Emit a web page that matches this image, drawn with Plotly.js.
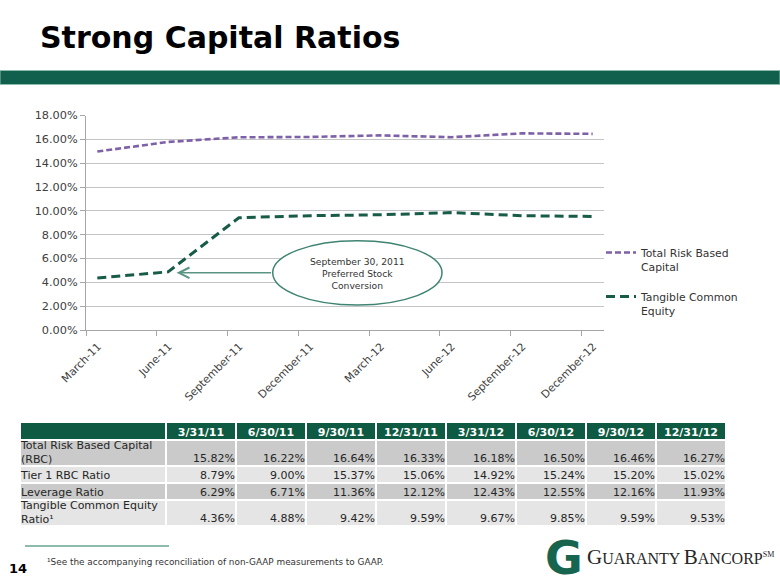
<!DOCTYPE html>
<html>
<head>
<meta charset="utf-8">
<script src="https://cdn.plot.ly/plotly-3.0.1.min.js"></script>
<style>html,body{margin:0;padding:0;background:#fff;}#chart{width:780px;height:585px;}</style>
</head>
<body>
<div id="chart"></div>
<script>
// ---------- data ----------
const chartDates = ['March-11','June-11','September-11','December-11','March-12','June-12','September-12','December-12'];
const totalRiskBased = [14.98, 15.78, 16.17, 16.20, 16.33, 16.18, 16.50, 16.46];
const tangibleCommon = [4.36, 4.88, 9.42, 9.59, 9.67, 9.85, 9.59, 9.53];
const seriesNames = ['Total Risk Based<br>Capital', 'Tangible Common<br>Equity'];

const tableDates = ['3/31/11','6/30/11','9/30/11','12/31/11','3/31/12','6/30/12','9/30/12','12/31/12'];
const rowLabels = ['Total Risk Based Capital<br>(RBC)', 'Tier 1 RBC Ratio', 'Leverage Ratio', 'Tangible Common Equity<br>Ratio¹'];
const rbcRow      = [15.82, 16.22, 16.64, 16.33, 16.18, 16.50, 16.46, 16.27];
const tier1Row    = [8.79, 9.00, 15.37, 15.06, 14.92, 15.24, 15.20, 15.02];
const leverageRow = [6.29, 6.71, 11.36, 12.12, 12.43, 12.55, 12.16, 11.93];
const tceRow      = [4.36, 4.88, 9.42, 9.59, 9.67, 9.85, 9.59, 9.53];

const titleText = 'Strong Capital Ratios';
const annotationText = 'September 30, 2011<br>Preferred Stock<br>Conversion';
const footnoteText = '¹See the accompanying reconciliation of non-GAAP measurements to GAAP.';
const pageNumber = '14';

// ---------- helpers (layout positions in page pixels) ----------
const W = 780, H = 585;
const px = v => v / W;
const py = v => 1 - v / H;
const FONT = 'DejaVu Sans, Verdana, sans-serif';

const idx = chartDates.map((d, i) => i);
const off = 0.16;

const traces = [
  {
    type: 'scatter', mode: 'lines', x: idx, y: totalRiskBased, name: seriesNames[0],
    legendgroup: 'a', line: {color: '#7d60a8', width: 2.6, dash: '6px,3px'},
    hoverinfo: 'skip'
  },
  {
    type: 'scatter', mode: 'lines', x: idx, y: tangibleCommon, name: seriesNames[1],
    legendgroup: 'b', line: {color: '#185c48', width: 3, dash: '9px,5px'},
    hoverinfo: 'skip'
  }
];

// ---------- table drawn on its own axes (x3 / y3), units = page pixels inside the table ----------
const rows = [rbcRow, tier1Row, leverageRow, tceRow];
const labelColWidth = 146, valueColWidth = 70;
const colEdges = [0, labelColWidth];
tableDates.forEach(() => colEdges.push(colEdges[colEdges.length - 1] + valueColWidth));
const headerH = 18;
const twoLine = rowLabels.map(l => l.indexOf('<br>') >= 0);
const rowEdges = [0, headerH];
rowLabels.forEach((l, i) => rowEdges.push(rowEdges[rowEdges.length - 1] + (twoLine[i] ? 26 : 17)));
const tableW = colEdges[colEdges.length - 1], tableH = rowEdges[rowEdges.length - 1];

// fill kinds: 0 header, 1 dark row, 2 light row
const fillZ = [colEdges.slice(1).map(() => 0)];
rows.forEach((r, ri) => fillZ.push(colEdges.slice(1).map(() => (ri % 2 === 0 ? 1 : 2))));
traces.push({
  type: 'heatmap', xaxis: 'x3', yaxis: 'y3', x: colEdges, y: rowEdges, z: fillZ,
  zmin: 0, zmax: 2, showscale: false, xgap: 2, ygap: 2, hoverinfo: 'skip',
  colorscale: [[0, '#0e5a43'], [0.5, '#c9cac9'], [1, '#e4e5e4']]
});
// header text
traces.push({
  type: 'scatter', mode: 'text', xaxis: 'x3', yaxis: 'y3', showlegend: false, hoverinfo: 'skip',
  x: tableDates.map((d, c) => (colEdges[c + 1] + colEdges[c + 2]) / 2),
  y: tableDates.map(() => headerH - 7),
  text: tableDates.map(d => '<b>' + d + '</b>'),
  textposition: 'middle center', cliponaxis: false,
  textfont: {family: FONT, size: 11, color: '#ffffff'}
});
// row labels
traces.push({
  type: 'scatter', mode: 'text', xaxis: 'x3', yaxis: 'y3', showlegend: false, hoverinfo: 'skip',
  x: rowLabels.map(() => 1),
  y: rowLabels.map((l, ri) => twoLine[ri] ? (rowEdges[ri + 1] + rowEdges[ri + 2]) / 2 : rowEdges[ri + 2] - 7),
  text: rowLabels, textposition: 'middle right', cliponaxis: false,
  textfont: {family: FONT, size: 11, color: '#262626'}
});
// values
const vx = [], vy = [], vt = [];
rows.forEach((r, ri) => r.forEach((v, c) => {
  vx.push(colEdges[c + 2] - 1);
  vy.push(rowEdges[ri + 2] - 7);
  vt.push(v.toFixed(2) + '%');
}));
traces.push({
  type: 'scatter', mode: 'text', xaxis: 'x3', yaxis: 'y3', showlegend: false, hoverinfo: 'skip',
  x: vx, y: vy, text: vt, textposition: 'middle left', cliponaxis: false,
  textfont: {family: FONT, size: 11, color: '#262626'}
});

const layout = {
  width: W, height: H,
  margin: {l: 0, r: 0, t: 0, b: 0},
  paper_bgcolor: '#ffffff', plot_bgcolor: '#ffffff',
  title: {
    text: '<b>' + titleText + '</b>',
    x: px(40), xanchor: 'left', y: py(37), yanchor: 'middle',
    font: {family: FONT, size: 30, color: '#000000'}
  },
  showlegend: true,
  legend: {
    x: px(601), xanchor: 'left', y: py(239), yanchor: 'top',
    valign: 'top', tracegroupgap: 13, bgcolor: 'rgba(0,0,0,0)',
    font: {family: FONT, size: 10.8, color: '#333333'}
  },
  xaxis: {
    domain: [px(86), px(604)], range: [-off, chartDates.length - 1 + off],
    tickvals: idx.map(i => i - off), ticktext: chartDates, tickangle: -45, ticklabelshift: 12,
    showgrid: false, zeroline: false, showline: true, linecolor: '#a6a6a6', linewidth: 1,
    ticks: 'outside', ticklen: 5, tickcolor: '#a6a6a6', automargin: false,
    tickfont: {family: FONT, size: 10.8, color: '#404040'}, fixedrange: true
  },
  yaxis: {
    domain: [py(330), py(115.5)], range: [0, 18], dtick: 2, tickformat: '.2f', ticksuffix: '%',
    showgrid: true, gridcolor: '#c4c4c4', gridwidth: 1, zeroline: false,
    showline: true, linecolor: '#a6a6a6', linewidth: 1,
    ticks: 'outside', ticklen: 5, tickcolor: '#a6a6a6', automargin: false,
    tickfont: {family: FONT, size: 11.3, color: '#404040'}, fixedrange: true
  },
  xaxis3: {
    domain: [px(20), px(20 + tableW)], range: [0, tableW], visible: false, fixedrange: true, automargin: false
  },
  yaxis3: {
    domain: [py(422 + tableH), py(422)], range: [tableH, 0], visible: false, fixedrange: true, automargin: false
  },
  shapes: [
    {type: 'rect', xref: 'paper', yref: 'paper', x0: 0, x1: 1, y0: py(84.5), y1: py(70.5),
     fillcolor: '#11604e', line: {color: '#8dbcaf', width: 1}, layer: 'above'},
    {type: 'circle', xref: 'paper', yref: 'paper', x0: px(272.7), x1: px(442), y0: py(305), y1: py(240.7),
     fillcolor: '#ffffff', line: {color: '#3f8472', width: 1.5}, layer: 'above'},
    {type: 'line', xref: 'paper', yref: 'paper', x0: px(25), x1: px(169), y0: py(546), y1: py(546),
     line: {color: '#8dbcaf', width: 2}}
  ],
  annotations: [
    {xref: 'paper', yref: 'paper', x: px(357.3), y: py(273), xanchor: 'center', yanchor: 'middle',
     text: annotationText, showarrow: false, align: 'center',
     font: {family: FONT, size: 9.2, color: '#333333'}},
    {xref: 'x', yref: 'y', x: 1.12, y: 4.8, ax: 96, ay: 0, text: '', showarrow: true,
     arrowhead: 5, arrowsize: 1.3, arrowwidth: 1.6, arrowcolor: '#5a9584', standoff: 0},
    {xref: 'paper', yref: 'paper', x: px(7), y: py(568), xanchor: 'left', yanchor: 'middle',
     text: '<b>' + pageNumber + '</b>', showarrow: false,
     font: {family: FONT, size: 13, color: '#000000'}},
    {xref: 'paper', yref: 'paper', x: px(45), y: py(562), xanchor: 'left', yanchor: 'middle',
     text: footnoteText, showarrow: false,
     font: {family: FONT, size: 8.9, color: '#333333'}},
    {xref: 'paper', yref: 'paper', x: px(564), y: py(558), xanchor: 'center', yanchor: 'middle',
     text: '<b>G</b>', showarrow: false, borderpad: 0,
     font: {family: FONT, size: 46, color: '#17654f'}},
    {xref: 'paper', yref: 'paper', x: px(586), y: py(557), xanchor: 'left', yanchor: 'middle',
     text: '<span style="font-size:21px">G</span>UARANTY <span style="font-size:21px">B</span>ANCORP<sup><span style="font-size:8px">SM</span></sup>',
     showarrow: false, borderpad: 0,
     font: {family: 'Liberation Serif, DejaVu Serif, serif', size: 16, color: '#262626'}}
  ]
};

Plotly.newPlot('chart', traces, layout, {staticPlot: true, displayModeBar: false});
</script>
</body>
</html>
